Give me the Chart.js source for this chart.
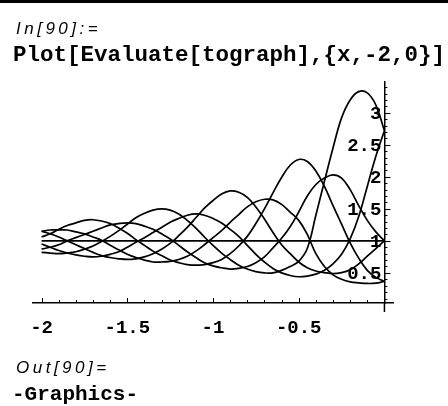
<!DOCTYPE html>
<html>
<head>
<meta charset="utf-8">
<script src="https://cdn.jsdelivr.net/npm/chart.js@4.4.1/dist/chart.umd.min.js"></script>
<style>
  html, body { margin: 0; padding: 0; background: #fff; }
  #page { position: relative; width: 448px; height: 406px; overflow: hidden; background: #fff; }
  #topRule { position: absolute; left: 0; top: 0; width: 448px; height: 3px; background: #000; }
  .txt { position: absolute; color: #000; white-space: pre; line-height: 1; z-index: 2; }
  #inLabel { left: 16px; top: 19px; font: italic 17px 'Liberation Sans', sans-serif; letter-spacing: 3.5px; }
  #inputLine { left: 13px; top: 42px; font: bold 22.5px 'Liberation Mono', monospace; }
  #outLabel { left: 16px; top: 358px; font: italic 17px 'Liberation Sans', sans-serif; letter-spacing: 3.5px; }
  #outputLine { left: 12px; top: 383px; font: bold 21px 'Liberation Mono', monospace; }
  #chartBox { position: absolute; left: 0; top: 0; width: 448px; height: 406px; z-index: 1; }
</style>
</head>
<body>
<div id="page">
  <div id="topRule"></div>
  <div class="txt" id="inLabel">In[90]:=</div>
  <div class="txt" id="inputLine">Plot[Evaluate[tograph],{x,-2,0}]</div>
  <div id="chartBox"><canvas id="plot" width="448" height="406"></canvas></div>
  <div class="txt" id="outLabel">Out[90]=</div>
  <div class="txt" id="outputLine">-Graphics-</div>
</div>
<script>
// sample points along x
const xs = [-2, -1.95, -1.9, -1.85, -1.8, -1.75, -1.7, -1.65, -1.6, -1.55,
  -1.5, -1.45, -1.4, -1.35, -1.3, -1.25, -1.2, -1.15, -1.1, -1.05,
  -1, -0.95, -0.9, -0.85, -0.8, -0.75, -0.7, -0.65, -0.6, -0.55,
  -0.5, -0.45, -0.4, -0.35, -0.3, -0.25, -0.2, -0.15, -0.1, -0.05, 0];

// the curves of tograph
const flatOne = [1, 1, 1, 1, 1, 1, 1, 1, 1, 1, 1, 1, 1, 1, 1, 1, 1, 1, 1, 1,
  1, 1, 1, 1, 1, 1, 1, 1, 1, 1, 1, 1, 1, 1, 1, 1, 1, 1, 1, 1, 1];

const curve0 = [0.82, 0.81, 0.80, 0.81, 0.83, 0.87, 0.92, 0.99, 1.07, 1.16,
  1.26, 1.36, 1.43, 1.48, 1.50, 1.48, 1.42, 1.32, 1.20, 1.06,
  0.93, 0.81, 0.71, 0.62, 0.56, 0.52, 0.50, 0.50, 0.54, 0.60,
  0.68, 0.88, 1.40, 1.93, 2.45, 2.92, 3.20, 3.33, 3.31, 3.12, 2.72];

const curve1 = [0.95, 0.90, 0.85, 0.81, 0.78, 0.76, 0.75, 0.76, 0.79, 0.83,
  0.90, 0.98, 1.05, 1.13, 1.21, 1.29, 1.35, 1.40, 1.42, 1.40,
  1.35, 1.28, 1.18, 1.07, 0.93, 0.79, 0.67, 0.57, 0.50, 0.46,
  0.44, 0.45, 0.48, 0.54, 0.64, 0.79, 1.03, 1.38, 1.85, 2.32, 2.72];

const curve2 = [1.15, 1.11, 1.06, 1.00, 0.94, 0.88, 0.82, 0.77, 0.74, 0.72,
  0.71, 0.72, 0.75, 0.80, 0.87, 0.96, 1.08, 1.21, 1.36, 1.51,
  1.63, 1.73, 1.78, 1.76, 1.68, 1.53, 1.34, 1.13, 0.94, 0.80,
  0.67, 0.58, 0.53, 0.505, 0.49, 0.505, 0.55, 0.64, 0.76, 0.88, 1.0];

const curve3 = [1.15, 1.17, 1.17, 1.17, 1.14, 1.11, 1.06, 1.01, 0.93, 0.86,
  0.79, 0.74, 0.70, 0.67, 0.67, 0.68, 0.71, 0.76, 0.84, 0.94,
  1.05, 1.16, 1.29, 1.41, 1.53, 1.61, 1.65, 1.64, 1.57, 1.45,
  1.32, 1.10, 0.80, 0.60, 0.47, 0.40, 0.36, 0.345, 0.335, 0.34, 0.368];

const curve4 = [1.06, 1.11, 1.18, 1.24, 1.28, 1.32, 1.33, 1.31, 1.27, 1.20,
  1.12, 1.02, 0.93, 0.84, 0.77, 0.70, 0.66, 0.63, 0.62, 0.63,
  0.66, 0.71, 0.80, 0.92, 1.07, 1.27, 1.50, 1.75, 1.99, 2.18,
  2.27, 2.24, 2.09, 1.85, 1.55, 1.26, 0.97, 0.73, 0.54, 0.43, 0.368];

const curve5 = [0.87, 0.90, 0.94, 1.00, 1.05, 1.10, 1.15, 1.20, 1.25, 1.27,
  1.28, 1.27, 1.23, 1.18, 1.11, 1.03, 0.93, 0.83, 0.74, 0.66,
  0.61, 0.58, 0.56, 0.57, 0.60, 0.66, 0.75, 0.89, 1.04, 1.22,
  1.45, 1.70, 1.88, 1.98, 2.03, 1.98, 1.80, 1.55, 1.32, 1.14, 1.0];

const xTickLabels = [-2, -1.5, -1, -0.5];
const yTickLabels = [0.5, 1, 1.5, 2, 2.5, 3];

const series = [flatOne, curve0, curve1, curve2, curve3, curve4, curve5];

// Mathematica style ticks: x ticks point up, y ticks point right,
// y labels sit just left of the axis at x = 0
const axisTicks = {
  id: 'axisTicks',
  afterDraw(chart) {
    const { ctx, chartArea } = chart;
    const xScale = chart.scales.x;
    const yScale = chart.scales.y;
    const x0 = xScale.getPixelForValue(0);
    const yBase = chartArea.bottom;
    ctx.save();
    ctx.strokeStyle = '#000';
    ctx.lineWidth = 1;
    for (let i = -20; i <= 0; i++) {
      const px = Math.round(xScale.getPixelForValue(i / 10)) + 0.5;
      const len = i % 5 === 0 ? 5 : 3;
      ctx.beginPath();
      ctx.moveTo(px, yBase);
      ctx.lineTo(px, yBase - len);
      ctx.stroke();
    }
    for (let i = 1; i <= 34; i++) {
      const py = Math.round(yScale.getPixelForValue(i / 10)) + 0.5;
      const len = i % 5 === 0 ? 6 : 3;
      ctx.beginPath();
      ctx.moveTo(x0, py);
      ctx.lineTo(x0 + len, py);
      ctx.stroke();
    }
    ctx.lineWidth = 1.5;
    ctx.beginPath();
    ctx.moveTo(x0, yBase);
    ctx.lineTo(x0, yBase + 9);
    ctx.stroke();

    ctx.fillStyle = '#000';
    ctx.font = 'bold 19px "Liberation Mono"';
    ctx.textAlign = 'right';
    ctx.textBaseline = 'middle';
    yTickLabels.forEach(v => {
      ctx.fillText(String(v), x0 - 3, yScale.getPixelForValue(v) + 1);
    });
    ctx.restore();
  }
};

const ctx = document.getElementById('plot').getContext('2d');

new Chart(ctx, {
  type: 'line',
  data: {
    datasets: series.map(ys => ({
      data: xs.map((x, i) => ({ x: x, y: ys[i] })),
      borderColor: '#000',
      borderWidth: 1.7,
      pointRadius: 0,
      tension: 0.4,
      fill: false
    }))
  },
  options: {
    responsive: false,
    animation: false,
    layout: { padding: { left: 33, right: 55, top: 82, bottom: 0 } },
    plugins: { legend: { display: false }, tooltip: { enabled: false } },
    scales: {
      x: {
        type: 'linear',
        min: -2.05,
        max: 0.05,
        afterFit: (scale) => { scale.height = 103; },
        grid: { display: false, drawTicks: true, tickLength: 10 },
        border: { display: true, color: '#000', width: 1.5 },
        afterBuildTicks: (scale) => { scale.ticks = xTickLabels.map(v => ({ value: v })); },
        ticks: {
          color: '#000',
          padding: 4,
          maxRotation: 0,
          autoSkip: false,
          font: { family: 'Liberation Mono', size: 19, weight: 'bold' },
          callback: (v) => String(v)
        }
      },
      y: {
        type: 'linear',
        position: { x: 0 },
        min: 0.03,
        max: 3.48,
        grid: { display: false },
        border: { display: true, color: '#000', width: 1.5 },
        ticks: { display: false }
      }
    }
  },
  plugins: [axisTicks]
});
</script>
</body>
</html>
